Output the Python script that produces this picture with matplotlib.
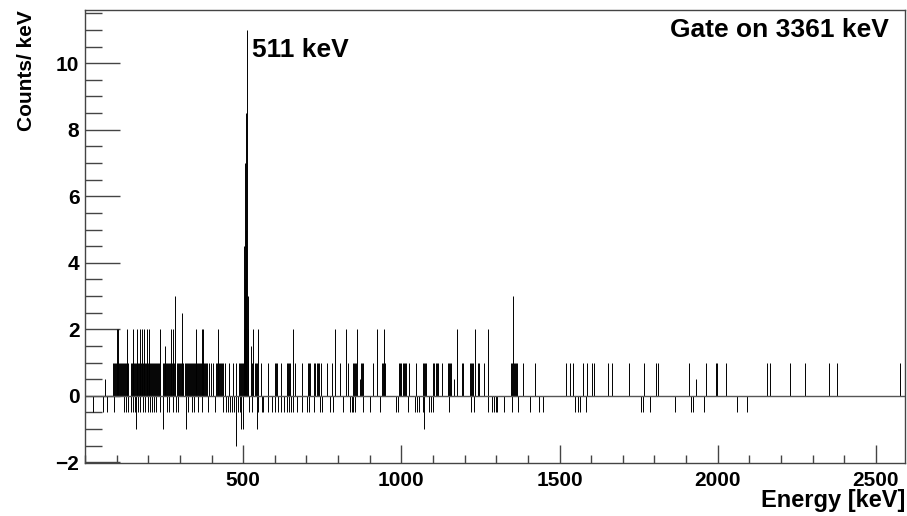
import numpy as np
import matplotlib
matplotlib.use("Agg")
import matplotlib.pyplot as plt
from matplotlib.ticker import MultipleLocator

plt.rcParams['font.family'] = ['Liberation Sans', 'DejaVu Sans']
plt.rcParams['font.weight'] = 'bold'

# bins with +1 count/keV
e_one = [89, 92, 95, 99, 102, 105, 108, 111, 114, 118, 121, 124, 127, 130, 134, 136,
         145, 148, 151, 154, 158, 161, 164, 167, 170, 173, 177, 180, 183, 186, 189, 192,
         196, 199, 202, 205, 208, 211, 215, 218, 221, 224, 227, 230, 234,
         247, 250, 253, 256, 259, 262, 266, 269, 272, 275, 278, 281, 284,
         291, 294, 297, 300, 304, 307, 310, 316, 319, 322, 326, 329, 332, 335,
         338, 341, 345, 348, 351, 354, 357, 360, 364, 367, 370, 373, 376, 380, 383, 386,
         392, 398, 405, 414, 417, 421, 424, 427, 430, 433, 436, 443, 456, 468, 478,
         487, 490, 493, 497, 500,
         528, 532, 536, 540, 544, 556, 579, 601, 604, 607, 619, 638, 642, 645, 648, 664,
         686, 705, 708, 711, 724, 728, 732, 736, 740, 746, 765, 781, 806, 832, 847, 851,
         854, 857, 873, 876, 879, 911, 939, 943, 946, 949, 993, 996, 999, 1006, 1009, 1012,
         1015, 1024, 1047, 1069, 1072, 1075, 1078, 1100, 1104, 1108, 1112, 1116, 1129,
         1148, 1151, 1154, 1157, 1192, 1195, 1217, 1221, 1224, 1227, 1243, 1246, 1262,
         1347, 1350, 1356, 1360, 1363, 1366, 1385, 1423, 1521, 1534, 1543, 1575, 1587,
         1603, 1609, 1654, 1666, 1720, 1768, 1806, 1812, 1910, 1964, 1995, 1998, 2027,
         2157, 2166, 2229, 2277, 2353, 2378, 2577]

# bins with +2 counts/keV
e_two = [101, 104, 133, 152, 164, 174, 180, 186, 196, 202, 237, 272, 278, 351, 370,
         373, 421, 531, 547, 658, 791, 825, 860, 923, 945, 1176, 1233, 1274]

# bins with -0.5 counts/keV
e_neg_half = [25, 57, 70, 92, 123, 130, 136, 145, 152, 158, 168, 174, 183, 190, 199,
              206, 212, 218, 225, 237, 259, 266, 278, 288, 294, 326, 338, 345, 357, 370,
              389, 411, 436, 446, 452, 458, 465, 471, 484, 490, 518, 528, 547, 560, 563,
              579, 591, 601, 610, 620, 629, 639, 645, 651, 658, 670, 686, 702, 708, 724,
              743, 749, 775, 784, 816, 838, 844, 847, 854, 879, 901, 933, 983, 990, 1021,
              1043, 1050, 1056, 1069, 1088, 1094, 1100, 1151, 1221, 1230, 1274, 1287,
              1293, 1300, 1303, 1325, 1350, 1369, 1407, 1436, 1448, 1549, 1559, 1565,
              1584, 1758, 1764, 1787, 1866, 1916, 1922, 1957, 2062, 2093]

# bins with -1 count/keV
e_neg_one = [161, 247, 319, 493, 500, 544, 1072]

# remaining bins, incl. the 511 keV annihilation peak
e_misc = [63, 253, 285, 307, 477, 502, 503, 505, 506, 508, 509, 512, 514, 515, 525,
          870, 1167, 1353, 1932]
c_misc = [0.5, 1.5, 3, 2.5, -1.5, 2, 4.5, 3.5, 7, 5, 8.5, 11, 3, 2, 1.5,
          0.5, 0.5, 3, 0.5]

energy = np.concatenate([e_one, e_two, e_neg_half, e_neg_one, e_misc])
counts = np.concatenate([np.full(len(e_one), 1.0), np.full(len(e_two), 2.0),
                         np.full(len(e_neg_half), -0.5), np.full(len(e_neg_one), -1.0),
                         c_misc])

fig = plt.figure(figsize=(9.07, 5.16), dpi=100)
ax = fig.add_axes([85 / 907, 1 - 463 / 516, 820 / 907, 453 / 516])

ax.vlines(energy, 0, counts, color='black', linewidth=0.7)
ax.axhline(0, color='#555555', linewidth=1)

ax.set_xlim(0, 2592)
ax.set_ylim(-2.02, 11.6)

ax.xaxis.set_major_locator(MultipleLocator(500))
ax.xaxis.set_minor_locator(MultipleLocator(100))
ax.yaxis.set_major_locator(MultipleLocator(2))
ax.yaxis.set_minor_locator(MultipleLocator(0.5))
ax.tick_params(axis='both', which='both', direction='in', colors='#444444',
               labelcolor='black', labelsize=15)
ax.tick_params(axis='y', which='major', length=25, width=1, pad=4)
ax.tick_params(axis='y', which='minor', length=12, width=1)
ax.tick_params(axis='x', which='major', length=13, width=1, pad=6)
ax.tick_params(axis='x', which='minor', length=6, width=1)
ax.set_yticks([-2, 0, 2, 4, 6, 8, 10])
ax.set_yticklabels(['\u22122', '0', '2', '4', '6', '8', '10'])
ax.set_xticks([500, 1000, 1500, 2000, 2500])
for sp in ax.spines.values():
    sp.set_color('#444444')
    sp.set_linewidth(1)

ax.set_ylabel('Counts/ keV', fontsize=15, fontweight='bold', loc='top', labelpad=14)
ax.set_xlabel('Energy [keV]', fontsize=17, fontweight='bold', loc='right', labelpad=-1)

ax.text(0.9805, 0.955, 'Gate on 3361 keV', transform=ax.transAxes, ha='right', va='center',
        fontsize=19, fontweight='bold')
ax.text(527, 10.4, '511 keV', ha='left', va='center', fontsize=19, fontweight='bold')

fig.savefig('out.png', dpi=100)
